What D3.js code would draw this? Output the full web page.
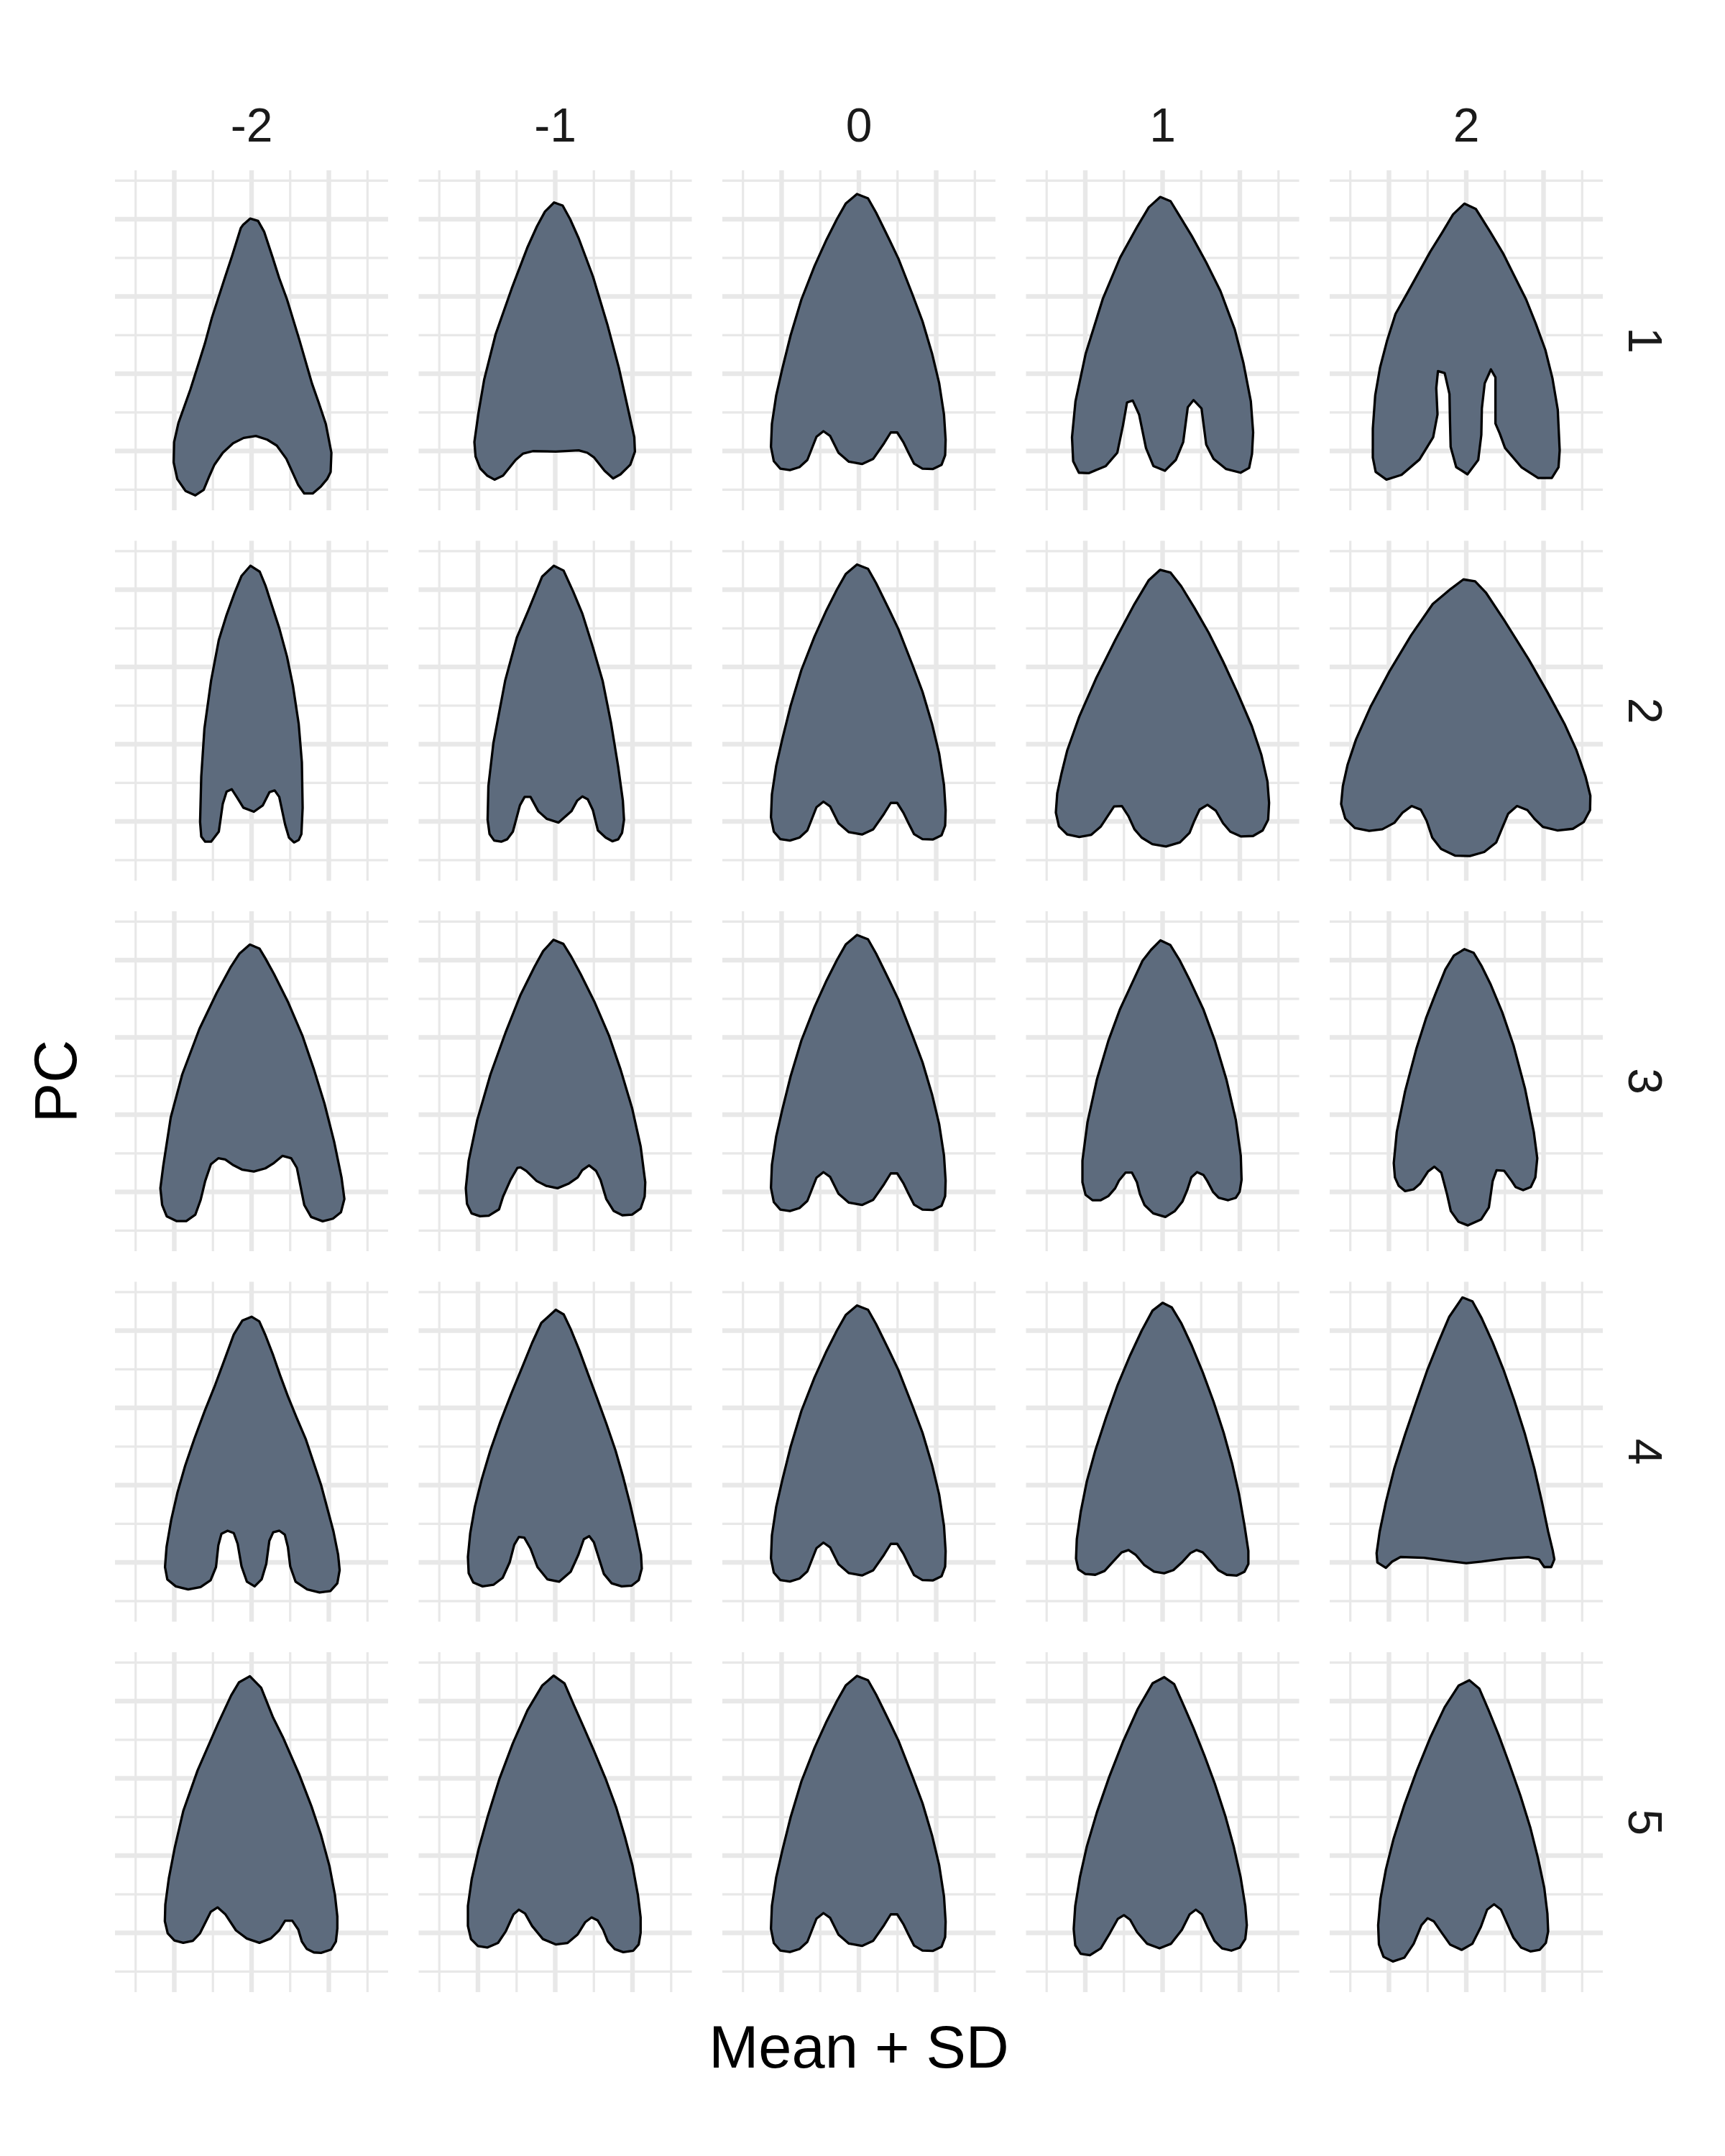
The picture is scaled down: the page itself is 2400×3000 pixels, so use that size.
<!DOCTYPE html>
<html>
<head>
<meta charset="utf-8">
<script src="https://cdn.jsdelivr.net/npm/d3@7"></script>
<style>
  html, body { margin: 0; padding: 0; background: #ffffff; }
  svg { display: block; }
</style>
</head>
<body>
<script>
// ---------------- DATA ----------------
const sdLevels = ["-2", "-1", "0", "1", "2"];   // columns (Mean + SD)
const pcLevels = ["1", "2", "3", "4", "5"];     // rows (PC)

const xMajorTicks = [-1, 0, 1];
const xMinorTicks = [-1.5, -0.5, 0.5, 1.5];
const yMajorTicks = [-1, 0, 1, 2];
const yMinorTicks = [-1.5, -0.5, 0.5, 1.5, 2.5];

// mean shape (SD = 0, identical in every row)
const shapeMean = [[-0.025,2.326],[0.118,2.270],[0.223,2.084],[0.394,1.736],[0.512,1.488],[0.682,1.054],[0.822,0.682],[0.946,0.264],[1.039,-0.124],[1.101,-0.527],[1.122,-0.853],[1.116,-1.054],[1.070,-1.178],[0.955,-1.234],[0.822,-1.228],[0.713,-1.163],[0.642,-1.023],[0.574,-0.884],[0.496,-0.760],[0.412,-0.760],[0.326,-0.899],[0.186,-1.101],[0.040,-1.169],[-0.130,-1.138],[-0.264,-1.023],[-0.372,-0.806],[-0.459,-0.744],[-0.549,-0.816],[-0.667,-1.116],[-0.769,-1.209],[-0.893,-1.247],[-1.017,-1.228],[-1.101,-1.132],[-1.138,-0.946],[-1.126,-0.651],[-1.070,-0.279],[-0.992,0.062],[-0.884,0.496],[-0.744,0.961],[-0.574,1.395],[-0.419,1.736],[-0.285,2.000],[-0.171,2.202]];

// PC1
const pc1_m2 = [[-0.016,2.009],[0.084,1.978],[0.164,1.836],[0.273,1.504],[0.357,1.240],[0.459,0.961],[0.620,0.434],[0.781,-0.124],[0.868,-0.372],[0.961,-0.651],[1.033,-1.023],[1.023,-1.271],[0.977,-1.364],[0.899,-1.457],[0.791,-1.550],[0.682,-1.550],[0.605,-1.442],[0.527,-1.271],[0.450,-1.101],[0.326,-0.930],[0.202,-0.853],[0.056,-0.806],[-0.102,-0.831],[-0.239,-0.899],[-0.372,-1.023],[-0.481,-1.178],[-0.543,-1.318],[-0.620,-1.504],[-0.729,-1.575],[-0.853,-1.519],[-0.961,-1.364],[-1.008,-1.147],[-1.002,-0.884],[-0.946,-0.636],[-0.791,-0.202],[-0.605,0.388],[-0.512,0.729],[-0.341,1.256],[-0.254,1.519],[-0.140,1.885],[-0.109,1.929]];
const pc1_m1 = [[-0.015,2.217],[0.096,2.177],[0.193,2.000],[0.304,1.752],[0.489,1.256],[0.675,0.636],[0.823,0.078],[0.934,-0.419],[1.023,-0.822],[1.031,-1.008],[0.971,-1.178],[0.845,-1.302],[0.749,-1.355],[0.638,-1.256],[0.504,-1.085],[0.415,-1.023],[0.304,-0.992],[0.007,-1.008],[-0.289,-1.002],[-0.415,-1.033],[-0.512,-1.116],[-0.675,-1.318],[-0.786,-1.371],[-0.882,-1.318],[-0.971,-1.225],[-1.031,-1.070],[-1.046,-0.884],[-0.994,-0.512],[-0.920,-0.078],[-0.771,0.512],[-0.564,1.101],[-0.363,1.628],[-0.237,1.907],[-0.133,2.099]];
const pc1_p1 = [[-0.030,2.288],[0.104,2.233],[0.208,2.062],[0.378,1.783],[0.564,1.442],[0.749,1.070],[0.934,0.574],[1.046,0.140],[1.142,-0.357],[1.172,-0.760],[1.157,-1.039],[1.120,-1.219],[1.009,-1.281],[0.823,-1.234],[0.660,-1.101],[0.564,-0.915],[0.504,-0.450],[0.400,-0.341],[0.326,-0.434],[0.267,-0.884],[0.171,-1.116],[0.030,-1.256],[-0.119,-1.194],[-0.215,-0.961],[-0.304,-0.527],[-0.386,-0.347],[-0.460,-0.372],[-0.512,-0.667],[-0.586,-1.023],[-0.734,-1.194],[-0.957,-1.287],[-1.083,-1.281],[-1.157,-1.132],[-1.172,-0.822],[-1.127,-0.357],[-0.994,0.264],[-0.771,0.977],[-0.549,1.504],[-0.326,1.907],[-0.178,2.155]];
const pc1_p2 = [[-0.025,2.202],[0.124,2.133],[0.310,1.836],[0.481,1.550],[0.620,1.271],[0.775,0.961],[0.899,0.651],[1.023,0.310],[1.116,-0.062],[1.184,-0.465],[1.209,-0.992],[1.194,-1.209],[1.107,-1.349],[0.930,-1.349],[0.713,-1.209],[0.502,-0.961],[0.434,-0.775],[0.378,-0.645],[0.378,-0.047],[0.319,0.056],[0.239,-0.124],[0.202,-0.450],[0.195,-0.791],[0.155,-1.116],[0.016,-1.302],[-0.130,-1.209],[-0.202,-0.946],[-0.211,-0.589],[-0.217,-0.264],[-0.279,0.009],[-0.366,0.034],[-0.388,-0.186],[-0.372,-0.527],[-0.428,-0.822],[-0.605,-1.110],[-0.837,-1.309],[-1.033,-1.371],[-1.172,-1.271],[-1.209,-1.085],[-1.209,-0.713],[-1.178,-0.279],[-1.116,0.078],[-1.023,0.434],[-0.915,0.775],[-0.775,1.023],[-0.620,1.302],[-0.465,1.581],[-0.310,1.829],[-0.171,2.062]];

// PC2
const pc2_m2 = [[-0.015,2.310],[0.106,2.233],[0.182,2.047],[0.257,1.814],[0.358,1.504],[0.459,1.132],[0.535,0.760],[0.610,0.264],[0.651,-0.233],[0.661,-0.822],[0.645,-1.163],[0.610,-1.240],[0.550,-1.271],[0.484,-1.209],[0.434,-1.039],[0.358,-0.682],[0.298,-0.598],[0.232,-0.620],[0.146,-0.791],[0.030,-0.874],[-0.106,-0.822],[-0.182,-0.698],[-0.257,-0.583],[-0.323,-0.614],[-0.373,-0.775],[-0.424,-1.132],[-0.524,-1.262],[-0.600,-1.262],[-0.651,-1.194],[-0.666,-1.008],[-0.651,-0.419],[-0.610,0.202],[-0.524,0.822],[-0.424,1.349],[-0.323,1.674],[-0.222,1.953],[-0.131,2.177]];
const pc2_m1 = [[-0.018,2.310],[0.108,2.248],[0.235,1.969],[0.351,1.690],[0.487,1.256],[0.613,0.822],[0.724,0.264],[0.815,-0.295],[0.875,-0.729],[0.890,-0.977],[0.865,-1.147],[0.815,-1.231],[0.739,-1.256],[0.653,-1.209],[0.552,-1.116],[0.487,-0.853],[0.421,-0.713],[0.351,-0.676],[0.285,-0.729],[0.209,-0.868],[0.043,-1.014],[-0.108,-0.967],[-0.219,-0.868],[-0.320,-0.682],[-0.396,-0.682],[-0.457,-0.791],[-0.548,-1.132],[-0.623,-1.231],[-0.699,-1.262],[-0.790,-1.247],[-0.850,-1.163],[-0.875,-0.977],[-0.865,-0.543],[-0.800,0.016],[-0.648,0.822],[-0.497,1.380],[-0.346,1.736],[-0.169,2.171]];
const pc2_p1 = [[-0.033,2.257],[0.101,2.223],[0.240,2.047],[0.411,1.767],[0.597,1.442],[0.783,1.070],[0.969,0.667],[1.155,0.233],[1.279,-0.140],[1.357,-0.481],[1.378,-0.760],[1.366,-0.977],[1.295,-1.116],[1.171,-1.188],[1.016,-1.194],[0.876,-1.132],[0.783,-1.023],[0.690,-0.862],[0.581,-0.784],[0.479,-0.846],[0.411,-0.992],[0.349,-1.147],[0.225,-1.271],[0.045,-1.324],[-0.132,-1.293],[-0.271,-1.209],[-0.364,-1.101],[-0.442,-0.930],[-0.526,-0.800],[-0.628,-0.806],[-0.798,-1.064],[-0.922,-1.172],[-1.078,-1.200],[-1.233,-1.169],[-1.341,-1.064],[-1.381,-0.884],[-1.363,-0.636],[-1.310,-0.388],[-1.233,-0.078],[-1.078,0.357],[-0.860,0.853],[-0.612,1.349],[-0.364,1.814],[-0.178,2.124]];
const pc2_p2 = [[-0.037,2.133],[0.115,2.109],[0.254,1.963],[0.496,1.597],[0.806,1.101],[1.054,0.667],[1.271,0.264],[1.426,-0.078],[1.544,-0.419],[1.606,-0.667],[1.602,-0.853],[1.519,-1.008],[1.380,-1.095],[1.178,-1.116],[0.992,-1.070],[0.884,-0.967],[0.791,-0.853],[0.657,-0.800],[0.543,-0.899],[0.471,-1.070],[0.388,-1.271],[0.233,-1.395],[0.047,-1.448],[-0.146,-1.442],[-0.326,-1.355],[-0.440,-1.209],[-0.512,-0.992],[-0.589,-0.847],[-0.707,-0.800],[-0.822,-0.884],[-0.930,-1.017],[-1.085,-1.101],[-1.256,-1.122],[-1.442,-1.085],[-1.566,-0.961],[-1.619,-0.775],[-1.597,-0.543],[-1.535,-0.264],[-1.426,0.062],[-1.240,0.481],[-0.992,0.946],[-0.713,1.411],[-0.434,1.814],[-0.202,2.009]];

// PC3
const pc3_m2 = [[-0.022,2.202],[0.104,2.149],[0.178,2.025],[0.289,1.823],[0.475,1.451],[0.660,1.017],[0.808,0.583],[0.942,0.149],[1.068,-0.347],[1.164,-0.812],[1.201,-1.091],[1.157,-1.262],[1.053,-1.346],[0.920,-1.380],[0.771,-1.324],[0.682,-1.169],[0.586,-0.688],[0.512,-0.564],[0.401,-0.533],[0.289,-0.626],[0.178,-0.695],[0.030,-0.735],[-0.118,-0.713],[-0.245,-0.648],[-0.341,-0.580],[-0.430,-0.564],[-0.526,-0.642],[-0.600,-0.859],[-0.660,-1.107],[-0.727,-1.293],[-0.845,-1.377],[-0.972,-1.377],[-1.098,-1.315],[-1.157,-1.169],[-1.180,-0.952],[-1.142,-0.657],[-1.046,-0.037],[-0.897,0.521],[-0.675,1.110],[-0.452,1.575],[-0.267,1.916],[-0.155,2.087]];
const pc3_m1 = [[-0.022,2.264],[0.105,2.211],[0.201,2.056],[0.327,1.823],[0.512,1.451],[0.698,1.017],[0.846,0.583],[0.994,0.087],[1.105,-0.409],[1.165,-0.874],[1.157,-1.060],[1.105,-1.215],[0.994,-1.293],[0.868,-1.302],[0.757,-1.247],[0.660,-1.091],[0.586,-0.843],[0.527,-0.726],[0.438,-0.657],[0.349,-0.719],[0.290,-0.812],[0.179,-0.890],[0.030,-0.952],[-0.118,-0.921],[-0.240,-0.859],[-0.374,-0.729],[-0.448,-0.682],[-0.489,-0.688],[-0.578,-0.843],[-0.675,-1.060],[-0.727,-1.225],[-0.860,-1.308],[-0.972,-1.315],[-1.083,-1.277],[-1.142,-1.153],[-1.157,-0.952],[-1.120,-0.595],[-1.009,-0.068],[-0.838,0.521],[-0.637,1.079],[-0.452,1.544],[-0.267,1.916],[-0.156,2.118]];
const pc3_p1 = [[-0.027,2.257],[0.101,2.195],[0.224,1.994],[0.357,1.730],[0.530,1.358],[0.677,0.955],[0.825,0.459],[0.948,-0.068],[1.012,-0.533],[1.022,-0.843],[0.997,-0.998],[0.948,-1.076],[0.849,-1.107],[0.726,-1.076],[0.652,-0.998],[0.579,-0.859],[0.530,-0.781],[0.446,-0.744],[0.372,-0.812],[0.322,-0.967],[0.258,-1.122],[0.160,-1.247],[0.037,-1.324],[-0.121,-1.277],[-0.234,-1.169],[-0.293,-1.029],[-0.332,-0.874],[-0.396,-0.750],[-0.480,-0.750],[-0.564,-0.853],[-0.613,-0.952],[-0.702,-1.054],[-0.800,-1.107],[-0.908,-1.107],[-0.997,-1.036],[-1.037,-0.874],[-1.037,-0.595],[-0.972,-0.099],[-0.849,0.459],[-0.702,0.955],[-0.554,1.358],[-0.382,1.730],[-0.259,1.994],[-0.150,2.133]];
const pc3_p2 = [[-0.023,2.143],[0.096,2.096],[0.194,1.932],[0.317,1.684],[0.465,1.327],[0.613,0.893],[0.761,0.335],[0.874,-0.223],[0.919,-0.564],[0.894,-0.812],[0.835,-0.936],[0.736,-0.977],[0.638,-0.936],[0.588,-0.859],[0.490,-0.726],[0.392,-0.719],[0.342,-0.859],[0.293,-1.200],[0.194,-1.355],[0.022,-1.433],[-0.101,-1.386],[-0.200,-1.247],[-0.249,-1.029],[-0.323,-0.750],[-0.412,-0.673],[-0.495,-0.735],[-0.594,-0.890],[-0.682,-0.967],[-0.791,-0.989],[-0.874,-0.921],[-0.923,-0.812],[-0.938,-0.626],[-0.899,-0.223],[-0.791,0.304],[-0.643,0.862],[-0.520,1.250],[-0.400,1.560],[-0.270,1.880],[-0.160,2.060]];

// PC4
const pc4_m2 = [[0.000,2.180],[0.100,2.120],[0.180,1.940],[0.280,1.680],[0.370,1.420],[0.470,1.150],[0.580,0.880],[0.700,0.600],[0.800,0.300],[0.900,0.000],[0.980,-0.300],[1.060,-0.600],[1.120,-0.900],[1.140,-1.100],[1.110,-1.270],[1.020,-1.370],[0.880,-1.390],[0.720,-1.350],[0.570,-1.250],[0.500,-1.050],[0.470,-0.800],[0.430,-0.640],[0.360,-0.590],[0.280,-0.610],[0.230,-0.720],[0.190,-1.020],[0.130,-1.220],[0.040,-1.310],[-0.060,-1.250],[-0.130,-1.050],[-0.180,-0.760],[-0.230,-0.620],[-0.310,-0.590],[-0.390,-0.630],[-0.430,-0.780],[-0.460,-1.060],[-0.530,-1.230],[-0.660,-1.320],[-0.820,-1.350],[-0.980,-1.310],[-1.090,-1.220],[-1.120,-1.060],[-1.100,-0.800],[-1.040,-0.450],[-0.960,-0.100],[-0.860,0.250],[-0.740,0.600],[-0.610,0.950],[-0.470,1.300],[-0.340,1.650],[-0.230,1.950],[-0.120,2.130]];
const pc4_m1 = [[0.007,2.270],[0.110,2.210],[0.200,2.020],[0.310,1.750],[0.420,1.450],[0.540,1.130],[0.660,0.800],[0.780,0.450],[0.880,0.100],[0.970,-0.250],[1.050,-0.600],[1.110,-0.900],[1.120,-1.080],[1.080,-1.230],[0.990,-1.300],[0.860,-1.310],[0.730,-1.270],[0.630,-1.150],[0.560,-0.930],[0.500,-0.740],[0.440,-0.660],[0.370,-0.700],[0.300,-0.900],[0.200,-1.120],[0.050,-1.250],[-0.100,-1.220],[-0.230,-1.060],[-0.320,-0.820],[-0.400,-0.680],[-0.470,-0.670],[-0.530,-0.770],[-0.590,-1.000],[-0.680,-1.200],[-0.800,-1.290],[-0.940,-1.310],[-1.060,-1.260],[-1.120,-1.140],[-1.130,-0.930],[-1.100,-0.620],[-1.040,-0.280],[-0.950,0.080],[-0.840,0.450],[-0.710,0.820],[-0.570,1.180],[-0.430,1.520],[-0.300,1.840],[-0.180,2.100]];
const pc4_p1 = [[0.000,2.360],[0.120,2.300],[0.240,2.100],[0.380,1.800],[0.520,1.460],[0.660,1.080],[0.790,0.680],[0.900,0.280],[0.990,-0.120],[1.060,-0.520],[1.110,-0.850],[1.110,-1.020],[1.060,-1.120],[0.960,-1.170],[0.830,-1.160],[0.720,-1.100],[0.620,-0.980],[0.520,-0.870],[0.440,-0.840],[0.360,-0.880],[0.260,-0.990],[0.140,-1.100],[0.020,-1.140],[-0.110,-1.120],[-0.240,-1.030],[-0.350,-0.900],[-0.440,-0.840],[-0.530,-0.870],[-0.640,-0.990],[-0.750,-1.110],[-0.870,-1.160],[-1.000,-1.150],[-1.090,-1.090],[-1.120,-0.950],[-1.110,-0.700],[-1.060,-0.350],[-0.980,0.050],[-0.870,0.450],[-0.730,0.880],[-0.580,1.300],[-0.420,1.680],[-0.270,2.000],[-0.130,2.260]];
const pc4_p2 = [[-0.050,2.430],[0.080,2.380],[0.200,2.160],[0.340,1.850],[0.480,1.500],[0.620,1.100],[0.760,0.660],[0.880,0.220],[0.980,-0.220],[1.060,-0.600],[1.120,-0.850],[1.140,-0.960],[1.100,-1.060],[1.010,-1.060],[0.940,-0.960],[0.800,-0.930],[0.500,-0.950],[0.200,-0.990],[0.000,-1.010],[-0.250,-0.980],[-0.550,-0.940],[-0.850,-0.930],[-0.960,-0.990],[-1.040,-1.070],[-1.150,-1.000],[-1.160,-0.880],[-1.120,-0.600],[-1.040,-0.220],[-0.930,0.220],[-0.790,0.660],[-0.640,1.100],[-0.500,1.500],[-0.360,1.850],[-0.220,2.180]];

// PC5
const pc5_m2 = [[-0.022,2.322],[0.124,2.174],[0.279,1.786],[0.403,1.538],[0.620,1.042],[0.775,0.639],[0.899,0.267],[1.008,-0.136],[1.079,-0.509],[1.110,-0.788],[1.110,-0.943],[1.091,-1.113],[1.029,-1.216],[0.899,-1.259],[0.806,-1.253],[0.713,-1.206],[0.651,-1.113],[0.605,-0.958],[0.527,-0.843],[0.434,-0.843],[0.357,-0.967],[0.248,-1.073],[0.102,-1.129],[-0.062,-1.073],[-0.202,-0.967],[-0.341,-0.757],[-0.440,-0.670],[-0.527,-0.726],[-0.667,-1.005],[-0.760,-1.104],[-0.884,-1.129],[-0.998,-1.098],[-1.085,-1.005],[-1.122,-0.850],[-1.116,-0.633],[-1.070,-0.291],[-0.992,0.112],[-0.884,0.577],[-0.698,1.104],[-0.434,1.709],[-0.264,2.074],[-0.164,2.242]];
const pc5_m1 = [[-0.020,2.330],[0.120,2.230],[0.240,1.950],[0.360,1.680],[0.500,1.360],[0.650,1.000],[0.790,0.620],[0.900,0.250],[1.000,-0.130],[1.070,-0.510],[1.105,-0.800],[1.105,-1.000],[1.080,-1.150],[1.010,-1.230],[0.880,-1.250],[0.770,-1.210],[0.680,-1.110],[0.620,-0.960],[0.550,-0.840],[0.470,-0.800],[0.390,-0.860],[0.290,-1.020],[0.160,-1.130],[0.010,-1.150],[-0.160,-1.080],[-0.300,-0.910],[-0.390,-0.750],[-0.470,-0.700],[-0.540,-0.760],[-0.640,-0.980],[-0.740,-1.130],[-0.880,-1.190],[-1.000,-1.170],[-1.090,-1.080],[-1.130,-0.910],[-1.130,-0.650],[-1.080,-0.300],[-0.990,0.090],[-0.870,0.520],[-0.720,1.000],[-0.550,1.450],[-0.360,1.880],[-0.170,2.200]];
const pc5_p1 = [[0.020,2.310],[0.150,2.220],[0.270,1.950],[0.400,1.650],[0.540,1.300],[0.680,0.920],[0.810,0.520],[0.920,0.120],[1.010,-0.280],[1.070,-0.650],[1.090,-0.900],[1.070,-1.080],[1.000,-1.190],[0.890,-1.230],[0.770,-1.200],[0.670,-1.100],[0.580,-0.920],[0.510,-0.760],[0.430,-0.700],[0.350,-0.760],[0.250,-0.960],[0.110,-1.140],[-0.040,-1.200],[-0.200,-1.140],[-0.330,-0.990],[-0.420,-0.830],[-0.500,-0.770],[-0.580,-0.820],[-0.680,-1.000],[-0.800,-1.200],[-0.940,-1.290],[-1.060,-1.270],[-1.130,-1.160],[-1.150,-0.950],[-1.130,-0.650],[-1.070,-0.280],[-0.980,0.120],[-0.850,0.560],[-0.690,1.020],[-0.510,1.480],[-0.320,1.900],[-0.130,2.230]];
const pc5_p2 = [[0.040,2.270],[0.170,2.160],[0.290,1.880],[0.420,1.560],[0.560,1.180],[0.700,0.780],[0.830,0.360],[0.930,-0.040],[1.010,-0.420],[1.050,-0.750],[1.060,-0.980],[1.030,-1.130],[0.950,-1.220],[0.830,-1.240],[0.710,-1.190],[0.610,-1.060],[0.530,-0.880],[0.450,-0.700],[0.360,-0.630],[0.270,-0.700],[0.190,-0.920],[0.080,-1.140],[-0.060,-1.220],[-0.210,-1.150],[-0.330,-0.980],[-0.420,-0.850],[-0.500,-0.810],[-0.580,-0.900],[-0.680,-1.140],[-0.800,-1.320],[-0.950,-1.370],[-1.070,-1.310],[-1.130,-1.150],[-1.140,-0.900],[-1.110,-0.560],[-1.040,-0.180],[-0.940,0.220],[-0.800,0.660],[-0.640,1.100],[-0.460,1.540],[-0.280,1.920],[-0.100,2.200]];

const shapes = [
  [pc1_m2, pc1_m1, shapeMean, pc1_p1, pc1_p2],
  [pc2_m2, pc2_m1, shapeMean, pc2_p1, pc2_p2],
  [pc3_m2, pc3_m1, shapeMean, pc3_p1, pc3_p2],
  [pc4_m2, pc4_m1, shapeMean, pc4_p1, pc4_p2],
  [pc5_m2, pc5_m1, shapeMean, pc5_p1, pc5_p2]
];

// ---------------- LAYOUT ----------------
const W = 2400, H = 3000;
const panelW = 380, panelH = 473;
const panelLeft0 = 160, panelTop0 = 237;
const colStep = 422.5, rowStep = 515.5;
const xDomain = [-1.767, 1.767];
const yDomain = [-1.767, 2.633];

const FONT = "'Liberation Sans', Arial, Helvetica, sans-serif";
const gridColor = "#E8E8E8";
const fillColor = "#5D6B7D";

const svg = d3.select("body").append("svg")
  .attr("width", W).attr("height", H)
  .attr("viewBox", `0 0 ${W} ${H}`);

svg.append("rect").attr("width", W).attr("height", H).attr("fill", "#ffffff");

const x = d3.scaleLinear().domain(xDomain).range([0, panelW]);
const y = d3.scaleLinear().domain(yDomain).range([panelH, 0]);

const line = d3.line()
  .x(d => x(d[0]))
  .y(d => y(d[1]))
  .curve(d3.curveLinearClosed);

pcLevels.forEach((pc, r) => {
  sdLevels.forEach((sd, c) => {
    const g = svg.append("g")
      .attr("transform", `translate(${panelLeft0 + c * colStep},${panelTop0 + r * rowStep})`);

    // minor grid
    g.selectAll("line.vminor").data(xMinorTicks).join("line")
      .attr("x1", d => x(d)).attr("x2", d => x(d))
      .attr("y1", 0).attr("y2", panelH)
      .attr("stroke", gridColor).attr("stroke-width", 3.2);
    g.selectAll("line.hminor").data(yMinorTicks).join("line")
      .attr("y1", d => y(d)).attr("y2", d => y(d))
      .attr("x1", 0).attr("x2", panelW)
      .attr("stroke", gridColor).attr("stroke-width", 3.2);
    // major grid
    g.selectAll("line.vmajor").data(xMajorTicks).join("line")
      .attr("x1", d => x(d)).attr("x2", d => x(d))
      .attr("y1", 0).attr("y2", panelH)
      .attr("stroke", gridColor).attr("stroke-width", 6.4);
    g.selectAll("line.hmajor").data(yMajorTicks).join("line")
      .attr("y1", d => y(d)).attr("y2", d => y(d))
      .attr("x1", 0).attr("x2", panelW)
      .attr("stroke", gridColor).attr("stroke-width", 6.4);

    g.append("path")
      .datum(shapes[r][c])
      .attr("d", line)
      .attr("fill", fillColor)
      .attr("stroke", "#000000")
      .attr("stroke-width", 3.3)
      .attr("stroke-linejoin", "round");
  });
});

// column strip labels
svg.selectAll("text.colstrip").data(sdLevels).join("text")
  .attr("x", (d, i) => panelLeft0 + i * colStep + panelW / 2)
  .attr("y", 197)
  .attr("text-anchor", "middle")
  .attr("font-family", FONT)
  .attr("font-size", 66)
  .attr("fill", "#1A1A1A")
  .text(d => d);

// row strip labels
svg.selectAll("text.rowstrip").data(pcLevels).join("text")
  .attr("transform", (d, i) => `translate(2290,${panelTop0 + i * rowStep + panelH / 2}) rotate(90)`)
  .attr("text-anchor", "middle")
  .attr("dy", "0.36em")
  .attr("font-family", FONT)
  .attr("font-size", 66)
  .attr("fill", "#1A1A1A")
  .text(d => d);

// axis titles
svg.append("text")
  .attr("x", panelLeft0 + (4 * colStep + panelW) / 2)
  .attr("y", 2877)
  .attr("text-anchor", "middle")
  .attr("font-family", FONT)
  .attr("font-size", 83)
  .attr("fill", "#000000")
  .text("Mean + SD");

svg.append("text")
  .attr("transform", `translate(76,${panelTop0 + (4 * rowStep + panelH) / 2}) rotate(-90)`)
  .attr("text-anchor", "middle")
  .attr("dy", "0.36em")
  .attr("font-family", FONT)
  .attr("font-size", 83)
  .attr("fill", "#000000")
  .text("PC");
</script>
</body>
</html>
